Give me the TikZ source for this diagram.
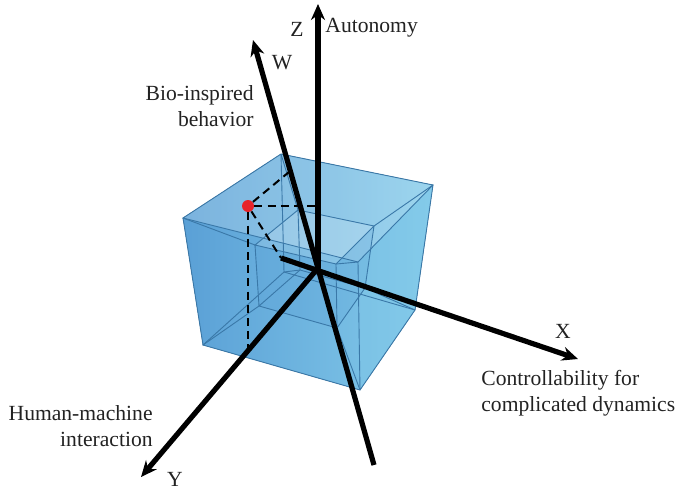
\documentclass[tikz,border=0pt]{standalone}
\usepackage{fontspec}
\setmainfont{Liberation Serif}
\definecolor{cubeDark}{HTML}{5AA0D6}
\definecolor{cubeLight}{HTML}{84CBEA}
\definecolor{cubeEdge}{HTML}{3A78A8}
\definecolor{dotRed}{HTML}{E8232A}
\definecolor{textGray}{HTML}{222222}
\usetikzlibrary{arrows.meta}
\tikzset{
  axisline/.style={line width=2.6pt, -{Stealth[length=8pt,width=7pt]}},
  edgeline/.style={draw=cubeEdge, line width=0.45pt},
  proj/.style={line width=1pt, dash pattern=on 4pt off 2.6pt},
  lbl/.style={font=\fontsize{10.8}{13}\selectfont, text=textGray, inner sep=0pt},
}
\begin{document}
\begin{tikzpicture}[x=0.5pt,y=-0.5pt]
\useasboundingbox (0,0) rectangle (679,498);
\coordinate (A) at (183,218); \coordinate (B) at (281,154);
\coordinate (C) at (433,185); \coordinate (F) at (358,262);
\coordinate (G) at (203,345); \coordinate (H) at (284,272);
\coordinate (D) at (415,310); \coordinate (E) at (360,390);
\coordinate (iA) at (255,245); \coordinate (iB) at (298,210);
\coordinate (iC) at (374,226); \coordinate (iF) at (336,264);
\coordinate (iG) at (259,306); \coordinate (iH) at (300,270);
\coordinate (iD) at (365,288); \coordinate (iE) at (337,328);
\fill[left color=cubeDark, right color=cubeLight] (A)--(B)--(C)--(D)--(E)--(G)--cycle;
\fill[white, opacity=0.2] (A)--(B)--(C)--(F)--cycle;
\fill[cubeLight, opacity=0.35] (F)--(C)--(D)--(E)--cycle;
\fill[cubeDark, opacity=0.25] (iA)--(iF)--(iE)--(iG)--cycle;
\fill[cubeDark, opacity=0.2] (iF)--(iC)--(iD)--(iE)--cycle;
\fill[white, opacity=0.15] (iA)--(iB)--(iC)--(iF)--cycle;
\draw[edgeline] (A)--(B)--(C)--(F)--cycle (G)--(H)--(D)--(E)--cycle
  (A)--(G) (B)--(H) (C)--(D) (F)--(E);
\draw[edgeline] (iA)--(iB)--(iC)--(iF)--cycle (iG)--(iH)--(iD)--(iE)--cycle
  (iA)--(iG) (iB)--(iH) (iC)--(iD) (iF)--(iE);
\draw[edgeline] (A)--(iA) (B)--(iB) (C)--(iC) (D)--(iD)
  (E)--(iE) (F)--(iF) (G)--(iG) (H)--(iH);
\coordinate (O) at (318,268);
\coordinate (zTip) at (318,4);
\coordinate (wTip) at (253,40); \coordinate (wEnd) at (374,465);
\coordinate (xStart) at (281,258); \coordinate (xTip) at (578,359);
\coordinate (yTip) at (141,477);
\coordinate (onZ) at (317,206); \coordinate (onY) at (248,350);
\coordinate (onX) at (281,258); \coordinate (onW) at (289,172);
\node[circle, fill=dotRed, inner sep=0pt, minimum size=6pt] (pt) at (248,206) {};
\draw[proj] (pt) -- (onZ);
\draw[proj] (pt) -- (onY);
\draw[proj] (pt) -- (onX);
\draw[proj] (pt) -- (onW);
\draw[axisline] (O) -- (zTip);
\draw[axisline] (wEnd) -- (wTip);
\draw[axisline] (xStart) -- (xTip);
\draw[axisline] (O) -- (yTip);
\node[lbl] (zName) at (297,29) {Z};
\node[lbl, anchor=west] (zText) at (325,28) {Autonomy};
\node[lbl] (wName) at (282,63) {W};
\node[lbl, anchor=east, align=right] (wText) at (254,106) {Bio-inspired\\behavior};
\node[lbl] (xName) at (563,331) {X};
\node[lbl, anchor=west, align=left] (xText) at (481,393) {Controllability for\\complicated dynamics};
\node[lbl] (yName) at (175,479) {Y};
\node[lbl, anchor=east, align=right] (yText) at (153,426) {Human-machine\\interaction};
\end{tikzpicture}
\end{document}
